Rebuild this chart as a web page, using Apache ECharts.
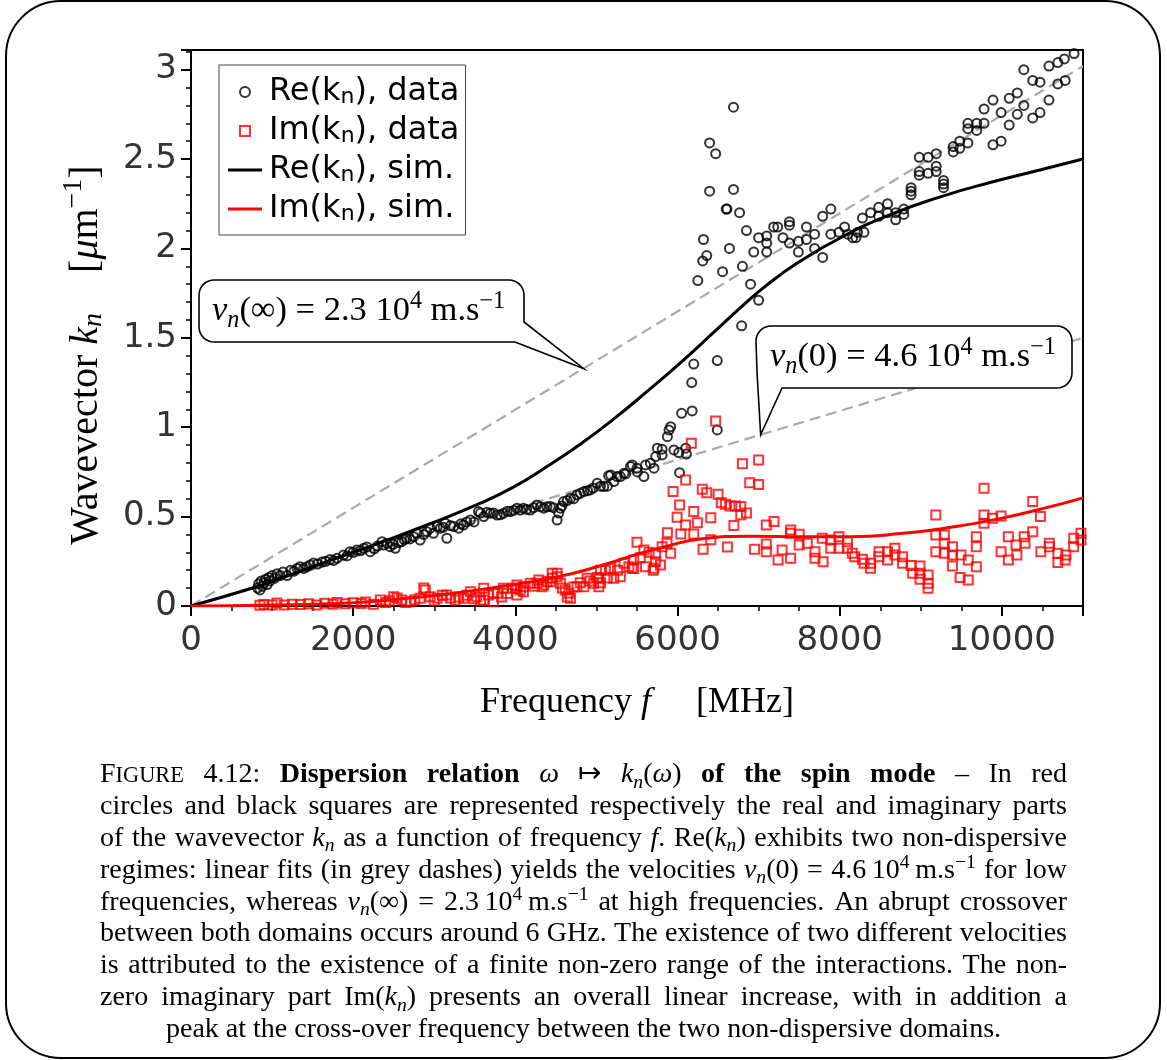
<!DOCTYPE html>
<html><head><meta charset="utf-8">
<script src="https://cdn.jsdelivr.net/npm/echarts@6/dist/echarts.min.js"></script>
<style>html,body{margin:0;padding:0;background:#fff}#c{width:1167px;height:1060px}</style>
</head><body><div id="c"></div>
<script>
// ---------- DATA ----------
const xTickLabels = ['0','2000','4000','6000','8000','10000'];
const yTickLabels = ['0','0.5','1','1.5','2','2.5','3'];
const seriesNames = ['Re(kₙ), data','Im(kₙ), data','Re(kₙ), sim.','Im(kₙ), sim.'];

// Re(k_n) data : frequency (MHz) / wavevector (µm^-1)
const reF = [820,835,850,865,880,900,920,940,960,975,1000,1030,1060,1100,1135,1185,1230,1270,1310,1345,1390,1430,1470,1510,1560,1615,1660,1715,1760,1800,1880,1925,1960,2000,2045,2090,2130,2170,2210,2260,2300,2355,2375,2420,2455,2490,2520,2560,2600,2630,2660,2700,2745,2785,2825,2870,2910,2950,2990,3035,3075,3110,3135,3155,3200,3240,3300,3330,3360,3400,3445,3490,3545,3570,3610,3650,3690,3730,3775,3815,3855,3900,3940,3980,4020,4060,4100,4140,4185,4225,4265,4310,4350,4390,4430,4470,4515,4535,4555,4575,4595,4640,4680,4720,4760,4800,4845,4890,4925,4960,5010,5050,5090,5135,5150,5175,5215,5255,5295,5340,5360,5420,5440,5500,5505,5585,5605,5665,5710,5730,5750,5810,5810,5875,5895,5915,5955,6015,6025,6050,6100,6110,6175,6180,6200,6250,6310,6320,6360,6395,6395,6470,6490,6490,6555,6600,6610,6640,6690,6690,6765,6790,6800,6850,6900,6940,7000,7000,7100,7100,7100,7185,7235,7300,7380,7380,7380,7490,7490,7590,7590,7690,7690,7790,7790,7890,7890,7990,8060,8100,8160,8200,8220,8300,8280,8380,8480,8480,8590,8590,8690,8690,8790,8790,8880,8880,8880,8980,8980,8980,9090,9090,9190,9190,9190,9280,9280,9280,9400,9400,9480,9480,9580,9580,9580,9690,9690,9780,9780,9890,9990,9890,9990,10090,10090,10190,10190,10270,10270,10380,10470,10380,10470,10580,10580,10690,10770,10890,10690,10780];
const reK = [0.10,0.125,0.09,0.14,0.11,0.13,0.15,0.12,0.16,0.14,0.17,0.155,0.18,0.17,0.19,0.17,0.20,0.195,0.21,0.22,0.21,0.22,0.23,0.24,0.235,0.246,0.25,0.26,0.255,0.267,0.285,0.28,0.304,0.30,0.313,0.31,0.323,0.33,0.304,0.32,0.335,0.36,0.341,0.35,0.332,0.345,0.323,0.355,0.36,0.37,0.379,0.375,0.388,0.407,0.369,0.40,0.416,0.435,0.407,0.444,0.435,0.44,0.463,0.379,0.45,0.444,0.435,0.46,0.453,0.47,0.481,0.47,0.528,0.52,0.50,0.525,0.519,0.52,0.509,0.51,0.519,0.53,0.528,0.535,0.547,0.537,0.547,0.54,0.537,0.55,0.565,0.555,0.547,0.555,0.556,0.55,0.481,0.52,0.547,0.56,0.584,0.59,0.603,0.60,0.621,0.63,0.64,0.645,0.649,0.66,0.687,0.67,0.668,0.67,0.729,0.733,0.696,0.724,0.724,0.743,0.739,0.78,0.789,0.771,0.75,0.724,0.789,0.799,0.771,0.836,0.883,0.845,0.877,0.947,0.985,1.003,0.873,0.858,0.746,1.078,0.883,0.85,1.25,1.091,1.353,1.82,1.93,2.05,1.96,2.59,2.32,2.53,1.373,0.985,1.87,2.22,2.22,2.0,2.79,2.33,2.20,1.567,1.90,2.10,1.80,1.98,1.71,2.06,2.07,2.03,1.98,2.12,2.12,2.06,2.15,2.13,2.03,2.04,1.98,2.12,2.05,2.08,2.00,1.95,2.18,2.22,2.08,2.09,2.12,2.08,2.06,2.06,2.09,2.09,2.17,2.20,2.23,2.18,2.25,2.20,2.20,2.16,2.22,2.19,2.34,2.30,2.32,2.51,2.43,2.41,2.51,2.42,2.53,2.43,2.46,2.38,2.36,2.34,2.57,2.54,2.60,2.56,2.59,2.70,2.67,2.70,2.66,2.70,2.78,2.58,2.60,2.83,2.76,2.84,2.69,2.87,2.75,2.80,3.00,2.94,2.93,2.73,2.76,2.83,3.02,3.04,3.06,3.09,2.92,2.94];

// Im(k_n) data
const imF = [850,900,1000,1060,1150,1250,1350,1450,1550,1650,1750,1800,1900,2000,2100,2150,2250,2335,2400,2450,2500,2540,2600,2650,2705,2760,2825,2870,2890,2950,3000,3035,3100,3155,3200,3260,3300,3360,3400,3445,3490,3525,3570,3610,3610,3670,3730,3730,3775,3830,3855,3900,3960,4000,4020,4020,4060,4100,4100,4185,4230,4270,4290,4330,4350,4390,4430,4455,4455,4515,4515,4555,4580,4615,4640,4660,4680,4720,4760,4800,4845,4885,4920,4965,5010,5030,5030,5050,5050,5110,5135,5175,5215,5260,5295,5340,5400,5440,5460,5460,5500,5540,5585,5605,5650,5700,5710,5730,5730,5790,5810,5870,5875,5915,5945,5995,6025,6040,6100,6100,6170,6200,6200,6245,6305,6315,6360,6410,6410,6470,6500,6540,6590,6615,6645,6695,6715,6780,6780,6800,6850,6890,6950,7000,7000,7095,7190,7095,7095,7290,7240,7395,7395,7395,7500,7500,7600,7695,7695,7785,7795,7890,7890,7990,7990,8095,8095,8155,8185,8280,8300,8380,8380,8485,8485,8590,8590,8680,8680,8775,8775,8880,8900,8990,8990,8990,9090,9090,9090,9185,9185,9185,9290,9290,9290,9390,9390,9390,9495,9485,9585,9585,9685,9685,9685,9780,9780,9780,9885,9990,9990,10080,10080,10175,10185,10275,10285,10380,10380,10475,10480,10585,10585,10690,10690,10790,10780,10885,10885,10975,10975];
const imK = [0.004,0.008,0.006,0.017,0.005,0.01,0.008,0.012,0.006,0.015,0.01,0.02,0.012,0.018,0.014,0.022,0.01,0.034,0.02,0.03,0.052,0.045,0.034,0.02,0.024,0.035,0.043,0.10,0.09,0.052,0.03,0.043,0.06,0.062,0.045,0.034,0.05,0.043,0.06,0.08,0.04,0.052,0.03,0.099,0.034,0.062,0.071,0.024,0.071,0.05,0.099,0.07,0.099,0.099,0.117,0.062,0.09,0.08,0.108,0.127,0.11,0.127,0.145,0.108,0.117,0.136,0.136,0.155,0.183,0.164,0.183,0.127,0.10,0.09,0.05,0.071,0.043,0.106,0.108,0.13,0.108,0.155,0.14,0.127,0.16,0.155,0.108,0.20,0.13,0.20,0.157,0.211,0.155,0.20,0.164,0.239,0.22,0.211,0.257,0.21,0.356,0.27,0.313,0.22,0.30,0.20,0.211,0.29,0.248,0.229,0.332,0.351,0.41,0.295,0.64,0.496,0.565,0.403,0.705,0.453,0.91,0.528,0.403,0.466,0.653,0.317,0.634,0.494,0.37,1.035,0.625,0.578,0.569,0.33,0.56,0.45,0.56,0.556,0.51,0.795,0.52,0.69,0.317,0.817,0.68,0.453,0.472,0.347,0.304,0.313,0.257,0.425,0.407,0.267,0.401,0.341,0.351,0.304,0.267,0.379,0.248,0.369,0.323,0.388,0.323,0.36,0.323,0.295,0.276,0.261,0.239,0.239,0.211,0.304,0.276,0.304,0.257,0.323,0.285,0.276,0.239,0.226,0.183,0.224,0.183,0.149,0.173,0.127,0.099,0.509,0.397,0.304,0.397,0.351,0.295,0.332,0.285,0.224,0.285,0.16,0.257,0.145,0.388,0.332,0.22,0.659,0.509,0.463,0.491,0.504,0.304,0.388,0.257,0.341,0.285,0.388,0.351,0.584,0.416,0.5,0.304,0.351,0.332,0.295,0.243,0.285,0.257,0.379,0.332,0.407,0.369];

// simulations
const simReF = [0,800,1200,1715,2335,2950,3570,3975,4390,4800,5210,5625,6035,6445,6780,7100,7500,8010,8630,9250,9865,10480,11000];
const simRe  = [0,0.106,0.17,0.255,0.355,0.46,0.575,0.665,0.78,0.905,1.045,1.2,1.36,1.53,1.67,1.795,1.925,2.06,2.19,2.29,2.37,2.44,2.50];
const simImF = [0,1000,2000,2460,3000,3690,4515,5050,5505,5830,6285,6900,7520,8135,8750,9370,9990,10600,11000];
const simIm  = [0,0.005,0.018,0.034,0.058,0.10,0.163,0.225,0.29,0.33,0.375,0.39,0.388,0.388,0.405,0.44,0.49,0.556,0.605];

// linear fits (grey dashes): end points
const fitF = [0, 11000];
const fitHigh = [0, 3.02];   // v_n(inf)
const fitLow  = [0, 1.50];   // v_n(0)
// annotation anchor frequencies on the fit lines
const annHighF = 4840, annLowF = 7025;

const zip = (a,b)=>a.map((v,i)=>[v,b[i]]);

// ---------- CHART ----------
const chart = echarts.init(document.getElementById('c'), null, {renderer:'canvas'});
const tickFont = {fontFamily:'DejaVu Sans', fontSize:34, color:'#333'};
const serif = 'Liberation Serif';

const option = {
  animation:false,
  backgroundColor:'#fff',
  grid:{left:191, top:50, width:892, height:556, show:true, borderColor:'#000', borderWidth:2, backgroundColor:'transparent', outerBoundsMode:'none', containLabel:false},
  legend:{
    data:[
      {name:seriesNames[0], icon:'circle'},
      {name:seriesNames[1], icon:'path://M0,0H10V10H0Z'},
      {name:seriesNames[2], icon:'path://M0,0H34V3H0Z'},
      {name:seriesNames[3], icon:'path://M0,0H34V3H0Z'}
    ],
    orient:'vertical', left:219, top:65, padding:[8,6,7,9],
    itemWidth:34, itemHeight:10, itemGap:1, selectedMode:false, symbolKeepAspect:true,
    backgroundColor:'#fff', borderColor:'#444', borderWidth:1, borderRadius:0,
    formatter:n=>n.replace('ₙ','{s|n}'),
    textStyle:{fontFamily:'DejaVu Sans', fontSize:32, color:'#000', lineHeight:38, padding:[0,0,0,2],
      rich:{s:{fontFamily:'DejaVu Sans', fontSize:22, lineHeight:24, padding:[10,0,0,0], color:'#000'}}}
  },
  xAxis:{type:'value', min:0, max:11000, interval:2000,
    axisLine:{show:true, onZero:false, lineStyle:{color:'#000', width:2}},
    axisTick:{show:true, inside:false, length:10, lineStyle:{color:'#000', width:2}},
    minorTick:{show:true, splitNumber:4, length:5, lineStyle:{color:'#000', width:1.5}},
    splitLine:{show:false}, minorSplitLine:{show:false},
    axisLabel:Object.assign({margin:18, showMaxLabel:false, formatter:v=>xTickLabels.includes(String(v))?String(v):''}, tickFont),
    name:'Frequency {i|f}     [MHz]', nameLocation:'middle', nameGap:79,
    nameTextStyle:{fontFamily:serif, fontSize:36, color:'#000',
      rich:{i:{fontFamily:serif, fontSize:36, fontStyle:'italic', color:'#000'}}}
  },
  yAxis:{type:'value', min:0, max:3.11, interval:0.5,
    axisLine:{show:true, onZero:false, lineStyle:{color:'#000', width:2}},
    axisTick:{show:true, inside:false, length:10, lineStyle:{color:'#000', width:2}},
    minorTick:{show:true, splitNumber:5, length:5, lineStyle:{color:'#000', width:1.5}},
    splitLine:{show:false}, minorSplitLine:{show:false},
    axisLabel:Object.assign({margin:14, showMaxLabel:false, formatter:v=>yTickLabels.includes(String(v))?String(v):''}, tickFont),
    name:'Wavevector {i|k}{sub|n}    [{i|μ}m{sup|−1}]', nameLocation:'middle', nameGap:71, nameRotate:90,
    nameTextStyle:{fontFamily:serif, fontSize:40, color:'#000', padding:[0,54,0,0],
      rich:{i:{fontFamily:serif, fontSize:40, fontStyle:'italic', color:'#000'},
            sub:{fontFamily:serif, fontSize:28, fontStyle:'italic', lineHeight:30, padding:[16,0,0,0], color:'#000'},
            sup:{fontFamily:serif, fontSize:28, lineHeight:30, padding:[0,0,24,0], color:'#000'}}}
  },
  series:[
    {name:'fit high', type:'line', data:zip(fitF,fitHigh), symbol:'none', silent:true,
      lineStyle:{color:'#aaaaaa', width:2.2, type:[11,6]}, z:1},
    {name:'fit low', type:'line', data:zip(fitF,fitLow), symbol:'none', silent:true,
      lineStyle:{color:'#aaaaaa', width:2.2, type:[11,6]}, z:1},
    {name:seriesNames[0], type:'scatter', data:zip(reF,reK), symbol:'circle', symbolSize:9,
      itemStyle:{color:'rgba(255,255,255,0)', borderColor:'#000', borderWidth:2}, z:2},
    {name:seriesNames[1], type:'scatter', data:zip(imF,imK), symbol:'rect', symbolSize:9,
      itemStyle:{color:'rgba(255,255,255,0)', borderColor:'#ff0000', borderWidth:2}, z:2},
    {name:seriesNames[2], type:'line', data:zip(simReF,simRe), symbol:'none', smooth:0.5,
      lineStyle:{color:'#000', width:3}, itemStyle:{color:'#000', borderWidth:0}, z:3},
    {name:seriesNames[3], type:'line', data:zip(simImF,simIm), symbol:'none', smooth:0.5,
      lineStyle:{color:'#ff0000', width:3}, itemStyle:{color:'#ff0000', borderWidth:0}, z:3}
  ]
};
chart.setOption(option);

// ---------- text layout helpers (caption & annotations) ----------
const mctx = document.createElement('canvas').getContext('2d');
const STY = {
  r:{}, b:{bold:true}, i:{italic:true}, sc:{scale:0.8},
  sub:{italic:true, scale:0.7, dy:0.18}, sup:{scale:0.7, dy:-0.38}
};
function fontStr(st,size){ return (st.italic?'italic ':'')+(st.bold?'bold ':'')+size.toFixed(2)+'px "'+serif+'"'; }
function parseLine(str){
  const segs=[]; const re=/\{(\w+)\|([^}]*)\}|([^{]+)/g; let m;
  while((m=re.exec(str))){ if(m[1]) segs.push({st:m[1],t:m[2]}); else segs.push({st:'r',t:m[3]}); }
  const words=[[]];
  segs.forEach(s=>{ s.t.split(' ').forEach((p,idx)=>{ if(idx>0) words.push([]); if(p) words[words.length-1].push({st:s.st,t:p}); }); });
  return words.filter(w=>w.length);
}
function measureWords(words, base){
  return words.map(w=>w.map(p=>{
    const st=STY[p.st]; const size=base*(st.scale||1); const font=fontStr(st,size);
    mctx.font=font; return {t:p.t, font, size, w:mctx.measureText(p.t).width, dy:(st.dy||0)*base};
  }));
}
function layout(str, base, x0, baseline, width, mode){
  const words = parseLine(str);
  let wm = measureWords(words, base);
  let total = wm.reduce((a,w)=>a+w.reduce((s,p)=>s+p.w,0),0);
  mctx.font = fontStr({},base); let sp = mctx.measureText(' ').width;
  if(mode==='justify' && words.length>1 && total + 0.55*sp*(words.length-1) > width){
    const f = width/(total + 0.55*sp*(words.length-1));
    base*=f; wm = measureWords(words, base);
    total = wm.reduce((a,w)=>a+w.reduce((s,p)=>s+p.w,0),0);
    mctx.font = fontStr({},base); sp = mctx.measureText(' ').width;
  }
  let gap=sp, x=x0;
  if(mode==='justify' && words.length>1) gap=(width-total)/(words.length-1);
  else if(mode==='center') x = x0+(width-total-sp*(words.length-1))/2;
  const els=[];
  wm.forEach(w=>{ w.forEach(p=>{
      els.push({type:'text', silent:true, z:10,
        style:{text:p.t, x:x, y:baseline+p.dy-0.3375*p.size, font:p.font, fill:'#000', align:'left', verticalAlign:'middle'}});
      x+=p.w; });
    x+=gap; });
  return els;
}
function arc(cx,cy,r,a0,a1){ const pts=[]; const n=8; for(let i=0;i<=n;i++){ const a=(a0+(a1-a0)*i/n)*Math.PI/180; pts.push([cx+r*Math.cos(a), cy+r*Math.sin(a)]); } return pts; }

// ---------- annotations & caption ----------
const hiK = fitHigh[0]+(fitHigh[1]-fitHigh[0])*annHighF/fitF[1];
const loK = fitLow[0]+(fitLow[1]-fitLow[0])*annLowF/fitF[1];
const t1 = chart.convertToPixel({gridIndex:0},[annHighF,hiK]);
const t2 = chart.convertToPixel({gridIndex:0},[annLowF,loK]);

const box1 = [].concat(
  arc(214,295,15,180,270), arc(509,295,15,270,360),
  [[524,322],[t1[0],t1[1]],[515,342]],
  arc(214,327,15,90,180)
);
const box2 = [].concat(
  arc(771,341,15,180,270), arc(1057,341,15,270,360), arc(1057,373,15,0,90),
  [[782,388],[t2[0],t2[1]],[757,372]]
);

const g = [];
g.push({type:'rect', silent:true, z:0, shape:{x:6,y:1,width:1154,height:1057,r:55}, style:{fill:'none', stroke:'#000', lineWidth:2}});
g.push({type:'polygon', silent:true, z:9, shape:{points:box1}, style:{fill:'#fff', stroke:'#000', lineWidth:1.6}});
g.push({type:'polygon', silent:true, z:9, shape:{points:box2}, style:{fill:'#fff', stroke:'#000', lineWidth:1.6}});
g.push(...layout('{i|v}{sub|n}(∞)  =  2.3 10{sup|4} m.s{sup|−1}', 34.5, 212, 323, 0, 'left'));
g.push(...layout('{i|v}{sub|n}(0)  =  4.6 10{sup|4} m.s{sup|−1}', 34.5, 770, 369, 0, 'left'));

const caption = [
  'F{sc|IGURE} 4.12: {b|Dispersion} {b|relation} {i|ω} ↦ {i|k}{sub|n}({i|ω}) {b|of} {b|the} {b|spin} {b|mode} – In red',
  'circles and black squares are represented respectively the real and imaginary parts',
  'of the wavevector {i|k}{sub|n} as a function of frequency {i|f}. Re({i|k}{sub|n}) exhibits two non-dispersive',
  'regimes: linear fits (in grey dashes) yields the velocities {i|v}{sub|n}(0) = 4.6\u200910{sup|4}\u2009m.s{sup|−1} for low',
  'frequencies, whereas {i|v}{sub|n}(∞) = 2.3\u200910{sup|4}\u2009m.s{sup|−1} at high frequencies. An abrupt crossover',
  'between both domains occurs around 6 GHz. The existence of two different velocities',
  'is attributed to the existence of a finite non-zero range of the interactions. The non-',
  'zero imaginary part Im({i|k}{sub|n}) presents an overall linear increase, with in addition a',
  'peak at the cross-over frequency between the two non-dispersive domains.'
];
caption.forEach((ln,i)=>{
  g.push(...layout(ln, 28, 100, 784+i*31.9, 967, i===caption.length-1?'center':'justify'));
});
chart.setOption({graphic:{elements:g}});
</script></body></html>
